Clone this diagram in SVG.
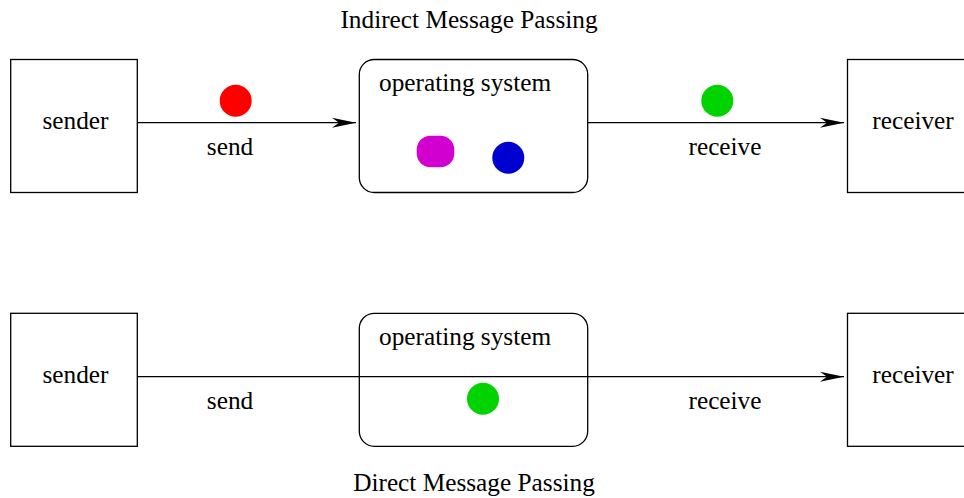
<svg xmlns="http://www.w3.org/2000/svg" width="964" height="498" viewBox="0 0 964 498">
<style>
text{font-family:"Liberation Serif","Times New Roman",serif;font-size:25.3px;fill:#000}
.box{fill:#fff;stroke:#000;stroke-width:1.3}
.frame{fill:none;stroke:#000;stroke-width:1.3}
.line{fill:none;stroke:#000;stroke-width:1.3}
</style>
<defs>
<marker id="arr" markerUnits="userSpaceOnUse" markerWidth="26" markerHeight="12" viewBox="-24 -6 26 12" refX="0" refY="0" orient="auto">
<path d="M0,0 L-24,-5 L-17,0 L-24,5 Z" fill="#000"/>
</marker>
</defs>
<rect width="964" height="498" fill="#fff"/>
<text x="469" y="28" text-anchor="middle">Indirect Message Passing</text>
<text x="474" y="491" text-anchor="middle">Direct Message Passing</text>

<g id="connectors">
<line class="line" x1="137.5" y1="122.7" x2="356" y2="122.7" marker-end="url(#arr)"/>
<line class="line" x1="587.7" y1="122.7" x2="844" y2="122.7" marker-end="url(#arr)"/>
<line class="line" x1="137.5" y1="376.7" x2="844" y2="376.7" marker-end="url(#arr)"/>
<text x="230" y="155" text-anchor="middle">send</text>
<text x="725" y="155" text-anchor="middle">receive</text>
<text x="230" y="409" text-anchor="middle">send</text>
<text x="725" y="409" text-anchor="middle">receive</text>
<circle cx="235.7" cy="100.7" r="16" fill="#ff0000"/>
<circle cx="717.3" cy="100.7" r="16" fill="#00d300"/>
</g>

<g id="sender1">
<rect class="box" x="10.7" y="59.5" width="126.6" height="133"/>
<text x="75.5" y="128.5" text-anchor="middle">sender</text>
</g>
<g id="os1">
<rect class="box" x="359.3" y="59.5" width="228.4" height="133" rx="15" ry="15"/>
<text x="379" y="91">operating system</text>
<rect x="416.7" y="135.7" width="37.6" height="31.6" rx="14" ry="14" fill="#d100d1"/>
<circle cx="508.3" cy="157.7" r="16" fill="#0000d1"/>
</g>
<g id="receiver1">
<rect class="box" x="847.5" y="59.5" width="127" height="133"/>
<text x="913" y="128.5" text-anchor="middle">receiver</text>
</g>

<g id="sender2">
<rect class="box" x="10.7" y="313.3" width="126.6" height="133"/>
<text x="75.5" y="382.5" text-anchor="middle">sender</text>
</g>
<g id="os2">
<rect class="frame" x="359.3" y="313.3" width="228.4" height="133" rx="15" ry="15"/>
<text x="379" y="344.5">operating system</text>
<circle cx="483" cy="398.7" r="16" fill="#00d300"/>
</g>
<g id="receiver2">
<rect class="box" x="847.5" y="313.3" width="127" height="133"/>
<text x="913" y="382.5" text-anchor="middle">receiver</text>
</g>
</svg>
